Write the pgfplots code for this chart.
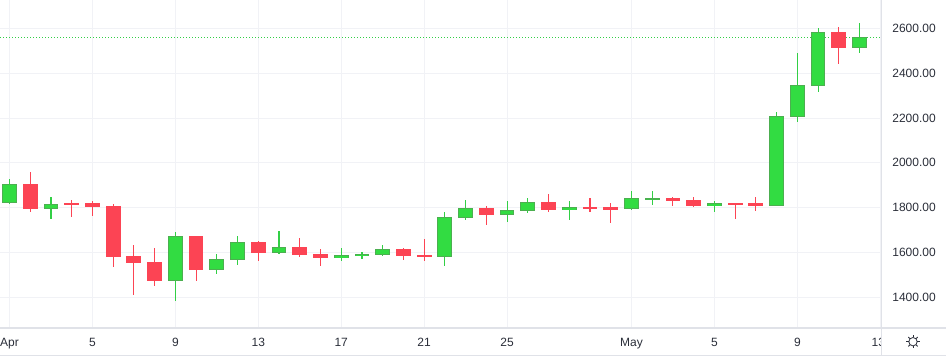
\documentclass[border=0pt]{standalone}
\usepackage{pgfplots}
\usepackage{pgfplotstable}
\usepackage{fontspec}
\setmainfont{Liberation Sans}
\pgfplotsset{compat=1.18}
\definecolor{upc}{HTML}{32DC42}
\definecolor{upb}{HTML}{4CAF50}
\definecolor{upw}{HTML}{32CF45}
\definecolor{dnc}{HTML}{FC4454}
\definecolor{gridc}{HTML}{F1F2F6}
\definecolor{framec}{HTML}{E0E2E8}
\definecolor{txt}{HTML}{2A2E39}
\pgfplotstableread{
x o c h l
0 1821 1904 1926 1815
2 1794 1813 1846 1748
8 1473 1671 1690 1384
10 1522 1568 1592 1503
11 1567 1644 1672 1545
13 1598 1622 1695 1592
16 1576 1586 1619 1562
17 1585 1592 1601 1571
18 1589 1614 1632 1585
21 1580 1755 1779 1540
22 1754 1796 1833 1745
24 1767 1787 1828 1736
25 1785 1822 1842 1776
27 1791 1800 1828 1745
30 1794 1840 1873 1790
31 1839 1841 1873 1812
34 1807 1819 1831 1781
37 1807 2208 2228 1807
38 2207 2347 2492 2184
39 2346 2585 2604 2319
41 2516 2562 2627 2489
}\upData
\pgfplotstableread{
x o c h l
1 1904 1794 1957 1781
3 1820 1816 1836 1757
4 1819 1803 1828 1763
5 1806 1580 1815 1536
6 1583 1553 1632 1411
7 1556 1473 1619 1447
9 1672 1522 1672 1473
12 1646 1598 1650 1562
14 1623 1589 1663 1580
15 1592 1576 1614 1540
19 1614 1585 1619 1567
20 1588 1580 1659 1562
23 1797 1767 1806 1723
26 1824 1790 1859 1781
28 1801 1799 1842 1781
29 1801 1790 1819 1732
32 1842 1830 1849 1807
33 1833 1807 1849 1803
35 1819 1816 1819 1749
36 1819 1807 1849 1785
40 2585 2516 2609 2440
}\dnData
\pgfplotsset{
  wick/.style={draw=none, no markers, forget plot, error bars/.cd, y dir=both, y explicit, error mark=none,
    error bar style={line width=1.1pt, draw=#1}},
  body/.style 2 args={draw=none, no markers, forget plot, error bars/.cd, y dir=both, y explicit, error mark=none,
    error bar style={line width=#2, draw=#1}},
}
\begin{document}
\begin{tikzpicture}[x=1pt,y=1pt]
\path[use as bounding box] (0,-36) rectangle (946,328);
\begin{axis}[
  at={(0,0)}, anchor=south west,
  scale only axis, width=881.3pt, height=328.3pt,
  xmin=-0.4583, xmax=42.05, ymin=1261.4, ymax=2729.6,
  axis line style={draw=none},
  tick style={draw=none},
  major tick length=0pt,
  grid=major, grid style={gridc, line width=0.9pt},
  xtick={0,4,8,12,16,20,24,30,34,38,42},
  xticklabels={Apr,5,9,13,17,21,25,May,5,9,\kern-2pt 13\kern2pt},
  ytick={1400,1600,1800,2000,2200,2400,2600},
  yticklabel pos=right,
  yticklabel style={/pgf/number format/fixed, /pgf/number format/fixed zerofill, /pgf/number format/precision=2, /pgf/number format/1000 sep={}, /pgf/number format/assume math mode=true, anchor=west, xshift=7.5pt},
  xticklabel style={anchor=base, yshift=-18.5pt},
  tick label style={font=\fontsize{12}{13}\selectfont, text=txt},
]
\addplot[forget plot, upw, line width=0.9pt, dash pattern=on 1pt off 2pt] coordinates {(-0.4583,2562)(42.05,2562)};
\addplot[wick=upw] table[x=x, y expr={(\thisrow{h}+\thisrow{l})/2}, y error expr={(\thisrow{h}-\thisrow{l})/2}] {\upData};
\addplot[wick=dnc] table[x=x, y expr={(\thisrow{h}+\thisrow{l})/2}, y error expr={(\thisrow{h}-\thisrow{l})/2}] {\dnData};
\addplot[body={upb}{14.8pt}] table[x=x, y expr={(\thisrow{o}+\thisrow{c})/2}, y error expr={abs(\thisrow{c}-\thisrow{o})/2+1}] {\upData};
\addplot[body={upc}{12.8pt}] table[x=x, y expr={(\thisrow{o}+\thisrow{c})/2}, y error expr={max(abs(\thisrow{c}-\thisrow{o})/2-3,0.01)}] {\upData};
\addplot[body={dnc}{14.8pt}] table[x=x, y expr={(\thisrow{o}+\thisrow{c})/2}, y error expr={abs(\thisrow{c}-\thisrow{o})/2+1}] {\dnData};
\end{axis}
\fill[white] (881.5,-27) rectangle (946,0);
\draw[framec, line width=1.4pt] (881.3,-27.7) -- (881.3,328);
\draw[framec, line width=1.2pt] (0,0) -- (946,0);
\draw[framec, line width=1pt] (0,-27.7) -- (946,-27.7);
\begin{scope}[shift={(913,-13.7)}, txt, line width=0.8pt]
\draw (0,0) circle (4.2);
\foreach \a in {0,45,...,315} {\draw (\a:4.4) -- (\a:6.6);}
\end{scope}
\end{tikzpicture}
\end{document}
